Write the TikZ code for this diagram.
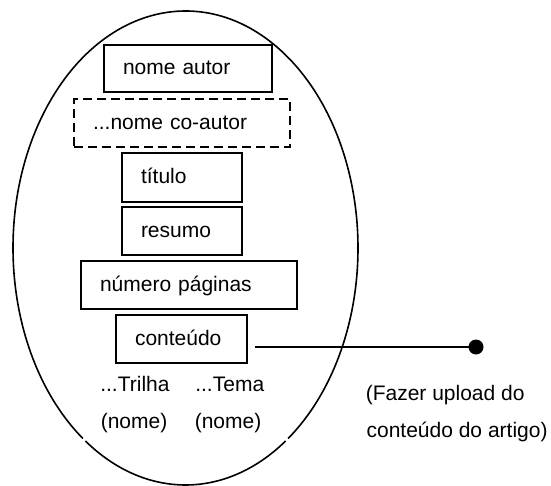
\documentclass[tikz,border=0pt]{standalone}
\usepackage{fontspec}
\setmainfont{Liberation Sans}
\usetikzlibrary{calc}
\begin{document}
\begin{tikzpicture}[x=1pt,y=-1pt,
  every node/.style={font=\fontsize{21}{25}\selectfont},
  field/.style={draw, rectangle, line width=1.8pt, inner xsep=19pt, inner ysep=0pt,
                align=left, text height=16.8pt, text depth=4.2pt},
  optional/.style={field, dashed, dash pattern=on 9pt off 5pt},
  caption/.style={anchor=base west, inner sep=0pt},
  outline/.style={line width=1.6pt},
  link/.style={line width=1.6pt},
  endpoint/.style={circle, fill=black, inner sep=0pt, minimum size=15pt}]
  \useasboundingbox (0,0) rectangle (551,486);

  % article record: outline with two small breaks near the bottom
  \coordinate (centre) at (185.5,248);
  \draw[outline] ($(centre)+(126.5:172.5 and 237)$)
    arc[start angle=126.5, end angle=413.5, x radius=172.5, y radius=237];
  \draw[outline] ($(centre)+(54.5:172.5 and 237)$)
    arc[start angle=54.5, end angle=125.5, x radius=172.5, y radius=237];

  % fields of the article
  \node[field, text width=130pt, minimum height=47pt] (autor)    at (188,68.5)  {nome autor};
  \node[optional, text width=178pt, minimum height=48pt] (coautor) at (182,123) {...nome co-autor};
  \node[field, text width=82pt,  minimum height=49pt] (titulo)   at (182,177.5) {título};
  \node[field, text width=82pt,  minimum height=48pt] (resumo)   at (182,231)   {resumo};
  \node[field, text width=178pt, minimum height=48pt] (paginas)  at (189,285)   {número páginas};
  \node[field, text width=93pt,  minimum height=48pt] (conteudo) at (181.5,339) {conteúdo};

  % track and theme names
  \node[caption] (trilha)     at (100.1,391) {...Trilha};
  \node[caption] (tema)       at (195.1,391) {...Tema};
  \node[caption] (trilhanome) at (100.6,428) {(nome)};
  \node[caption] (temanome)   at (194.6,428) {(nome)};

  % upload of the content
  \coordinate (uploadstart) at (255,347);
  \node[endpoint] (upload) at (476,347) {};
  \draw[link] (uploadstart) -- (upload.center);
  \node[caption] (uploadtext1) at (365.6,400) {(Fazer upload do};
  \node[caption] (uploadtext2) at (366.4,437) {conteúdo do artigo)};
\end{tikzpicture}
\end{document}
